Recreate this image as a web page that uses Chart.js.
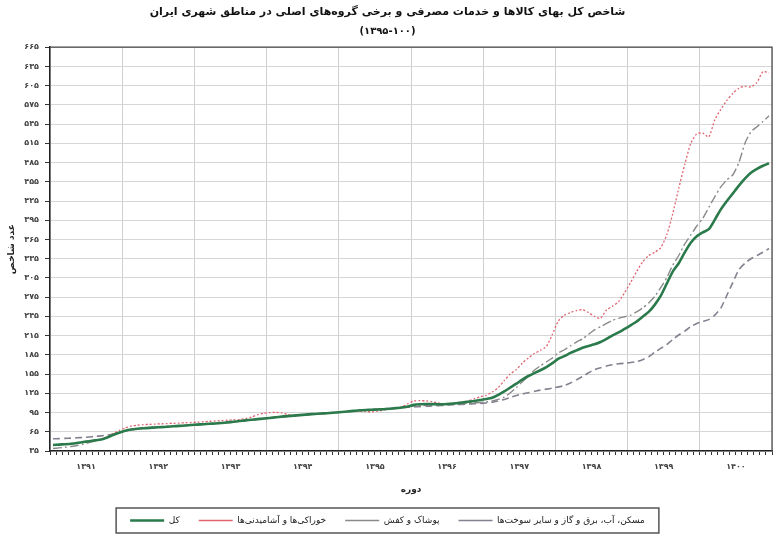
<!DOCTYPE html>
<html>
<head>
<meta charset="utf-8">
<script src="https://cdn.jsdelivr.net/npm/chart.js@4.4.1/dist/chart.umd.min.js"></script>
<style>
  html, body { margin: 0; padding: 0; background: #fff; }
</style>
</head>
<body>
<canvas id="cpiChart" width="779" height="539"></canvas>
<script>
// --- Data (monthly, Farvardin 1391 .. Esfand 1400) ---
const yearLabels = ['۱۳۹۱', '۱۳۹۲', '۱۳۹۳', '۱۳۹۴', '۱۳۹۵', '۱۳۹۶', '۱۳۹۷', '۱۳۹۸', '۱۳۹۹', '۱۴۰۰'];
const yTicks = [35, 65, 95, 125, 155, 185, 215, 245, 275, 305, 335, 365, 395, 425, 455, 485, 515, 545, 575, 605, 635, 665];

const seriesNames = ['کل', 'خوراکی‌ها و آشامیدنی‌ها', 'پوشاک و کفش', 'مسکن، آب، برق و گاز و سایر سوخت‌ها'];

const totalIndex = [
  44.4, 45.0, 45.6, 46.3, 47.5, 49.0, 50.3, 51.6, 53.0, 56.0, 60.0, 63.5,
  66.5, 68.5, 69.6, 70.4, 71.1, 71.7, 72.3, 72.8, 73.5, 74.2, 74.8, 75.5,
  76.2, 76.8, 77.4, 78.0, 78.8, 79.6, 80.6, 81.7, 82.8, 83.8, 84.7, 85.6,
  86.6, 87.6, 88.6, 89.4, 90.2, 91.0, 91.8, 92.5, 93.1, 93.7, 94.3, 95.0,
  95.8, 96.7, 97.6, 98.5, 99.0, 99.4, 99.8, 100.1, 100.9, 101.9, 102.9, 104.5,
  107.0, 108.0, 108.4, 108.2, 108.0, 108.0, 108.6, 109.5, 110.6, 111.8, 113.0, 114.5,
  116.0, 118.0, 122.5, 128.0, 134.0, 140.0, 146.5, 152.0, 156.5, 161.0, 166.0, 172.0,
  179.0, 183.0, 188.0, 192.0, 196.0, 199.0, 201.5, 205.0, 210.0, 215.5, 220.0, 225.5,
  231.0, 237.0, 244.5, 252.0, 263.0, 277.0, 296.0, 315.0, 328.0, 345.0, 360.0, 370.0,
  376.0, 381.0, 396.0, 412.0, 425.0, 437.0, 449.0, 460.0, 469.0, 475.0, 480.0, 484.0
];

const foodIndex = [
  44.5, 45.0, 45.6, 46.3, 47.5, 49.0, 50.4, 51.8, 53.3, 57.0, 62.0, 67.0,
  71.0, 74.0, 75.3, 76.0, 76.6, 77.0, 77.4, 77.8, 78.2, 78.6, 79.0, 79.5,
  80.0, 80.6, 81.2, 81.8, 82.4, 83.0, 83.6, 84.3, 85.5, 88.0, 91.5, 94.0,
  95.0, 95.2, 94.5, 92.0, 90.6, 91.2, 91.7, 92.1, 92.4, 93.0, 93.7, 94.5,
  95.5, 96.6, 97.5, 97.2, 96.5, 96.0, 97.2, 99.0, 100.5, 101.8, 104.0, 109.0,
  113.0, 113.5, 113.2, 112.0, 110.0, 108.2, 108.5, 109.3, 110.5, 113.0, 116.5, 119.5,
  122.0, 127.0, 134.0, 145.0, 155.0, 162.0, 172.0, 180.0, 187.0, 192.0, 198.0, 217.0,
  238.0, 247.0, 251.0, 254.0, 255.5, 251.0, 245.0, 242.0, 255.0, 261.0, 268.0, 282.0,
  298.0, 315.0, 330.0, 340.0, 345.0, 352.0, 372.0, 405.0, 445.0, 482.0, 515.0, 530.0,
  531.0, 525.0, 552.0, 568.0, 582.0, 593.0, 601.0, 604.0, 603.0, 610.0, 627.0, 625.0
];

const clothingIndex = [
  39.0, 39.8, 40.8, 42.0, 43.5, 45.5, 48.0, 50.5, 53.0, 56.0, 59.5, 63.5,
  66.0, 68.0, 69.4, 70.3, 71.0, 71.6, 72.2, 72.8, 73.4, 74.0, 74.6, 75.3,
  76.0, 76.7, 77.4, 78.1, 78.9, 79.7, 80.6, 81.6, 82.6, 83.6, 84.5, 85.4,
  86.4, 87.4, 88.4, 89.3, 90.1, 90.9, 91.7, 92.4, 93.1, 93.8, 94.5, 95.2,
  96.0, 96.8, 97.6, 98.3, 99.0, 99.6, 100.2, 100.8, 101.5, 102.3, 103.2, 104.2,
  105.0, 105.6, 106.2, 106.7, 107.2, 107.6, 108.0, 108.5, 109.0, 109.6, 110.2, 110.6,
  111.5, 113.0, 115.5, 119.0, 126.0, 134.0, 143.0, 152.0, 161.0, 168.0, 174.0, 180.0,
  188.0, 193.0, 199.0, 205.0, 210.0, 217.0, 224.0, 229.0, 234.0, 239.0, 242.0, 244.5,
  247.0, 252.0, 258.0, 266.0, 276.0, 290.0, 305.0, 325.0, 340.0, 358.0, 372.0, 386.0,
  398.0, 415.0, 432.0, 447.0, 458.0, 466.0, 485.0, 515.0, 533.0, 541.0, 549.0, 558.0
];

const housingIndex = [
  54.0, 54.3, 54.7, 55.1, 55.6, 56.2, 56.9, 57.7, 58.6, 59.8, 61.5, 64.0,
  66.5, 68.5, 69.7, 70.6, 71.4, 72.0, 72.6, 73.2, 73.8, 74.4, 75.0, 75.6,
  76.3, 76.9, 77.5, 78.1, 78.8, 79.6, 80.5, 81.5, 82.5, 83.5, 84.4, 85.3,
  86.2, 87.2, 88.2, 89.1, 90.0, 90.8, 91.6, 92.4, 93.1, 93.8, 94.5, 95.2,
  95.9, 96.6, 97.3, 98.0, 98.7, 99.4, 100.1, 100.8, 101.5, 102.2, 102.8, 103.3,
  103.8, 104.3, 104.8, 105.3, 105.8, 106.3, 106.8, 107.3, 107.8, 108.3, 108.8, 109.3,
  110.0, 111.0, 113.0, 115.5, 118.5, 121.5, 124.0, 126.0, 128.0, 130.0, 131.5, 133.0,
  135.0, 137.0, 141.0, 146.0, 151.0, 157.0, 162.0, 165.0, 167.5, 169.5, 171.0, 172.0,
  173.0, 174.5, 177.5, 182.0, 189.0, 195.0, 201.0, 209.0, 216.0, 222.0, 229.0, 234.0,
  237.0, 240.0, 247.0, 258.0, 278.0, 298.0, 318.0, 328.0, 335.0, 340.0, 345.0, 351.0
];

const FONT = 'DejaVu Sans';
const faDigits = '۰۱۲۳۴۵۶۷۸۹';
const toFa = (v) => String(v).replace(/\d/g, d => faDigits[d]);

// each month sits in the middle of its slot on the 0..120 month axis
const asPoints = (arr) => arr.map((v, i) => ({ x: i + 0.5, y: v }));
const monthTicks = [];
for (let m = 0; m <= 120; m++) monthTicks.push(m);

// top/right frame and the box round the legend
const framePlugin = {
  id: 'frame',
  afterDraw(chart) {
    const { ctx, chartArea: a } = chart;
    ctx.save();
    ctx.strokeStyle = '#444';
    ctx.lineWidth = 1.2;
    ctx.beginPath();
    ctx.moveTo(a.left, a.top);
    ctx.lineTo(a.right, a.top);
    ctx.lineTo(a.right, a.bottom);
    ctx.stroke();

    const boxes = chart.legend.legendHitBoxes;
    if (boxes && boxes.length) {
      const left = Math.min(...boxes.map(b => b.left)) - 14;
      const right = Math.max(...boxes.map(b => b.left + b.width)) + 14;
      const top = boxes[0].top - 8;
      const h = boxes[0].height + 16;
      ctx.strokeStyle = '#555';
      ctx.lineWidth = 1.5;
      ctx.strokeRect(left, top, right - left, h);
    }
    ctx.restore();
  }
};

const ctx = document.getElementById('cpiChart').getContext('2d');
new Chart(ctx, {
  type: 'line',
  data: {
    datasets: [
      {
        label: seriesNames[0],
        data: asPoints(totalIndex),
        borderColor: '#2b7a4b',
        borderWidth: 2.6,
        pointRadius: 0,
        tension: 0.2
      },
      {
        label: seriesNames[1],
        data: asPoints(foodIndex),
        borderColor: '#e06470',
        borderWidth: 1.3,
        borderDash: [2, 2],
        pointRadius: 0,
        tension: 0.2
      },
      {
        label: seriesNames[2],
        data: asPoints(clothingIndex),
        borderColor: '#8a8a8a',
        borderWidth: 1.4,
        borderDash: [9, 3, 2, 3],
        pointRadius: 0,
        tension: 0.2
      },
      {
        label: seriesNames[3],
        data: asPoints(housingIndex),
        borderColor: '#85808f',
        borderWidth: 1.6,
        borderDash: [7, 4],
        pointRadius: 0,
        tension: 0.2
      }
    ]
  },
  options: {
    responsive: false,
    animation: false,
    layout: { padding: { top: 4, right: 4, left: 0, bottom: 4 } },
    plugins: {
      title: {
        display: true,
        text: 'شاخص کل بهای کالاها و خدمات مصرفی و برخی گروه‌های اصلی در مناطق شهری ایران',
        color: '#111',
        font: { family: FONT, size: 11, weight: 'bold' },
        padding: { top: 2, bottom: 6 }
      },
      subtitle: {
        display: true,
        text: '(۱۳۹۵-۱۰۰)',
        color: '#111',
        font: { family: FONT, size: 10, weight: 'bold' },
        padding: { top: 0, bottom: 10 }
      },
      legend: {
        position: 'bottom',
        maxHeight: 38,
        labels: {
          usePointStyle: true,
          pointStyle: 'line',
          pointStyleWidth: 34,
          padding: 19,
          color: '#222',
          font: { family: FONT, size: 9 }
        }
      },
      tooltip: { enabled: false }
    },
    scales: {
      x: {
        type: 'linear',
        min: 0,
        max: 120,
        afterBuildTicks: (s) => { s.ticks = monthTicks.map(v => ({ value: v })); },
        afterFit: (s) => { s.height = 46; },
        ticks: {
          autoSkip: false,
          maxRotation: 0,
          padding: 7,
          color: '#444',
          font: { family: FONT, size: 8, weight: 'bold' },
          callback: (v) => (v % 12 === 6 ? yearLabels[(v - 6) / 12] : '')
        },
        grid: {
          color: (c) => (c.tick && c.tick.value % 12 === 0 ? '#cfcfcf' : 'rgba(0,0,0,0)'),
          tickColor: '#333',
          tickLength: 4
        },
        border: { color: '#222', width: 1.5 },
        title: {
          display: true,
          text: 'دوره',
          color: '#222',
          font: { family: FONT, size: 9, weight: 'bold' },
          padding: { top: 10, bottom: 2 }
        }
      },
      y: {
        min: 35,
        max: 665,
        afterBuildTicks: (s) => { s.ticks = yTicks.map(v => ({ value: v })); },
        afterFit: (s) => { s.width = 50; },
        ticks: {
          padding: 6,
          color: '#444',
          font: { family: FONT, size: 8, weight: 'bold' },
          callback: (v) => toFa(v)
        },
        grid: { color: '#d6d6d6', tickColor: '#333', tickLength: 5 },
        border: { color: '#222', width: 1.5 },
        title: {
          display: true,
          text: 'عدد شاخص',
          color: '#222',
          font: { family: FONT, size: 9, weight: 'bold' },
          padding: { top: 6 }
        }
      }
    }
  },
  plugins: [framePlugin]
});
</script>
</body>
</html>
